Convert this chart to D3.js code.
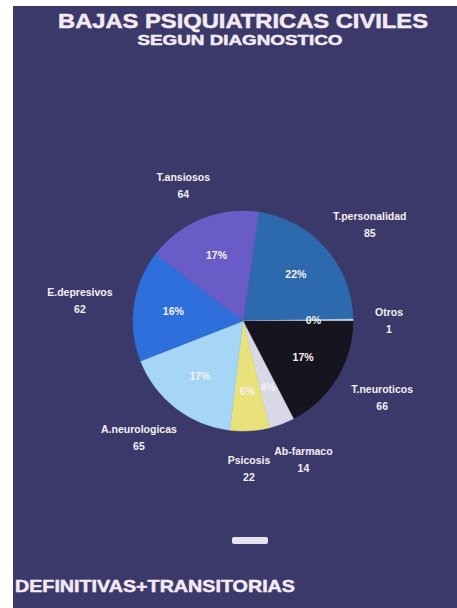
<!DOCTYPE html>
<html>
<head>
<meta charset="utf-8">
<script src="https://cdn.jsdelivr.net/npm/d3@7"></script>
<style>
  html, body { margin: 0; padding: 0; background: #fff; }
  svg { display: block; }
  text { font-family: "Liberation Sans", Arial, sans-serif; font-weight: bold; }
  text.head { stroke: #f3eaf2; stroke-width: 0.5px; }
</style>
</head>
<body>
<script>
var width = 457, height = 608;

// data
var categories = ["T.personalidad", "Otros", "T.neuroticos", "Ab-farmaco", "Psicosis", "A.neurologicas", "E.depresivos", "T.ansiosos"];
var values = [85, 1, 66, 14, 22, 65, 62, 64];
var colors = ["#2c69ad", "#e6ecf6", "#15141f", "#d9d8e6", "#e9e27a", "#a6d6f6", "#2f6fdc", "#6a5cc6"];

var titleText = "BAJAS PSIQUIATRICAS CIVILES",
    subtitleText = "SEGUN DIAGNOSTICO",
    footerText = "DEFINITIVAS+TRANSITORIAS";

var total = d3.sum(values);

var svg = d3.select("body")
    .append("svg")
    .attr("width", width)
    .attr("height", height);

// slide background (scan leaves a white margin top/left)
svg.append("rect")
    .attr("x", 13).attr("y", 6)
    .attr("width", width - 13).attr("height", height - 6)
    .attr("fill", "#3b3969");

var cx = 243, cy = 321, r = 110;

// titles
svg.append("text")
    .attr("class", "head")
    .attr("x", cx).attr("y", 28)
    .attr("text-anchor", "middle")
    .attr("font-size", 20)
    .attr("fill", "#f3eaf2")
    .attr("textLength", 370).attr("lengthAdjust", "spacingAndGlyphs")
    .text(titleText);

svg.append("text")
    .attr("class", "head")
    .attr("x", 240).attr("y", 45)
    .attr("text-anchor", "middle")
    .attr("font-size", 14)
    .attr("fill", "#f3eaf2")
    .attr("textLength", 205).attr("lengthAdjust", "spacingAndGlyphs")
    .text(subtitleText);

// pie: Otros ends at 3 o'clock, slices go clockwise
var startA = Math.PI / 2 - (values[0] + values[1]) / total * 2 * Math.PI;

var pie = d3.pie()
    .sort(null)
    .value(function(d){ return d; })
    .startAngle(startA)
    .endAngle(startA + 2 * Math.PI);

var arcs = pie(values);

var arc = d3.arc().innerRadius(0).outerRadius(r);
var pctArc = d3.arc().innerRadius(r * 0.64).outerRadius(r * 0.64);

var g = svg.append("g").attr("transform", "translate(" + cx + "," + cy + ")");

g.selectAll("path.slice")
    .data(arcs)
    .enter().append("path")
    .attr("class", "slice")
    .attr("d", arc)
    .attr("fill", function(d, i){ return colors[i]; })
    .attr("stroke", function(d, i){ return colors[i]; })
    .attr("stroke-width", 0.5);

// percentages inside
g.selectAll("text.pct")
    .data(arcs)
    .enter().append("text")
    .attr("class", "pct")
    .attr("transform", function(d){ return "translate(" + pctArc.centroid(d) + ")"; })
    .attr("text-anchor", "middle")
    .attr("dy", "0.35em")
    .attr("font-size", 10.5)
    .attr("fill", "#f4f0f4")
    .text(function(d){ return Math.round(d.value / total * 100) + "%"; });

// outside labels: name + value
var labels = g.selectAll("g.lab")
    .data(arcs)
    .enter().append("g")
    .attr("class", "lab");

labels.append("text")
    .attr("class", "name")
    .attr("text-anchor", "middle")
    .attr("font-size", 10.5)
    .attr("fill", "#f4f0f4")
    .attr("y", -4)
    .text(function(d, i){ return categories[i]; });

labels.append("text")
    .attr("text-anchor", "middle")
    .attr("font-size", 10.5)
    .attr("fill", "#f4f0f4")
    .attr("y", 13)
    .text(function(d){ return d.value; });

var R0 = r * 1.2, h = 30;
var boxes = [];
labels.each(function(d){
    var w = d3.select(this).select("text.name").node().getComputedTextLength();
    var a = (d.startAngle + d.endAngle) / 2;
    var dx = Math.sin(a), dy = -Math.cos(a);
    boxes.push({ el: this, w: w,
        x: R0 * dx + dx * w / 2,
        y: R0 * dy + dy * h / 2 });
});

// push apart neighbours that overlap (only happens with the thin bottom slices)
for (var k = 0; k < 20; k++) {
    for (var i = 0; i < boxes.length; i++) {
        var A = boxes[i], B = boxes[(i + 1) % boxes.length];
        var ox = (A.w + B.w) / 2 + 4 - Math.abs(A.x - B.x);
        var oy = 24 - Math.abs(A.y - B.y);
        if (ox > 0 && oy > 0) {
            var s = A.x > B.x ? 1 : -1;
            A.x += s * ox / 2;
            B.x -= s * ox / 2;
        }
    }
}
boxes.forEach(function(b){
    d3.select(b.el).attr("transform", "translate(" + b.x + "," + b.y + ")");
});

// small stamp under the pie
svg.append("rect")
    .attr("x", 232).attr("y", 537)
    .attr("width", 36).attr("height", 7)
    .attr("rx", 2)
    .attr("fill", "#e6e4ee");

svg.append("text")
    .attr("class", "head")
    .attr("x", 15).attr("y", 592)
    .attr("font-size", 17)
    .attr("fill", "#f3eaf2")
    .attr("textLength", 280).attr("lengthAdjust", "spacingAndGlyphs")
    .text(footerText);
</script>
</body>
</html>
